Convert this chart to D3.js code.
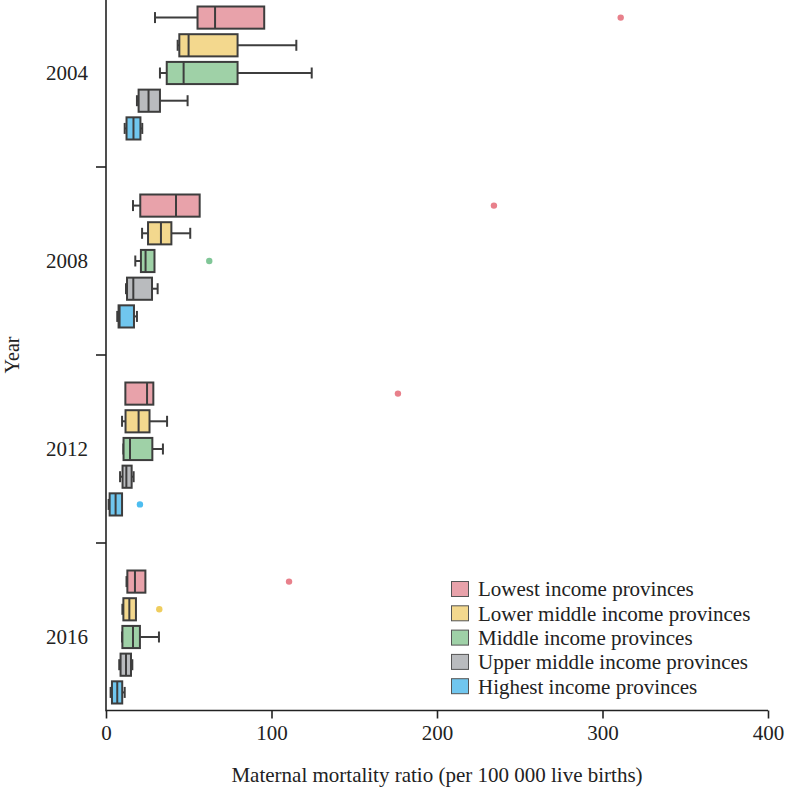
<!DOCTYPE html>
<html><head><meta charset="utf-8">
<script src="https://cdn.jsdelivr.net/npm/d3@7"></script>
<style>body{margin:0;background:#fff}svg{display:block}</style>
</head><body>
<script>
const years = ["2004","2008","2012","2016"];
const groups = ["Lowest income provinces","Lower middle income provinces","Middle income provinces","Upper middle income provinces","Highest income provinces"];
const colors = ["#e8a2aa","#f3d88e","#9fd1a7","#b9bbbe","#70c6ee"];
const outlierColors = ["#e8808b","#efcd5e","#80c697","#b9bbbe","#4dbdf0"];
// [min, q1, median, q3, max] per year, for each group
const lowest      = [[29.6,55.3,65.9,95.6,95.6],[16.3,20.7,42.3,56.6,56.6],[11.7,11.7,24.8,28.6,28.6],[12.4,12.9,17.5,23.8,23.8]];
const lowerMiddle = [[43.3,44.3,49.9,79.5,115],[21.8,25.4,33.2,39.5,50.9],[9.7,11.8,19.7,26.3,36.9],[9.9,10.5,14.1,18.1,18.1]];
const middle      = [[32.6,36.7,46.9,79.5,124.3],[17.7,21.1,23.9,29.3,29.3],[10.5,10.6,14.5,28.0,34.4],[9.7,9.9,16.3,20.5,32.0]];
const upperMiddle = [[18.7,19.7,25.7,32.6,49.3],[12.1,12.7,16.5,27.8,31.2],[8.5,10.0,12.3,15.5,16.7],[8.0,8.8,12.1,15.1,15.9]];
const highest     = [[11.3,12.4,16.6,20.8,21.9],[6.8,7.6,8.2,16.9,18.7],[1.6,2.2,5.8,9.7,9.7],[2.8,3.6,6.8,9.8,11.3]];
// outliers: [year, groupIndex, value]
const outliers = [["2004",0,311],["2008",0,234.4],["2008",2,62.4],["2012",0,176.4],["2012",4,20.5],["2016",0,110.6],["2016",1,32.2]];
const xTicks = [0,100,200,300,400];

const series = [lowest,lowerMiddle,middle,upperMiddle,highest];
const W = 787, H = 789;
const svg = d3.select("body").append("svg").attr("width",W).attr("height",H);
const font = "'Liberation Serif','Times New Roman',serif";
const fs = 21;
const x = d3.scaleLinear().domain([0,400]).range([106,768]);
const y = d3.scaleBand().domain(years).range([-21,731]).paddingInner(0).paddingOuter(0);
const inner = d3.scaleBand().domain(d3.range(groups.length)).range([y.bandwidth()/2-66.5, y.bandwidth()/2+66.5]).paddingInner(0.2);
const axisY = 710.5;
const bh = inner.bandwidth();

// x axis
const xAxis = svg.append("g").attr("transform",`translate(0,${axisY})`)
  .call(d3.axisBottom(x).tickValues(xTicks).tickSize(8).tickPadding(7).tickSizeOuter(0));
xAxis.select(".domain").attr("stroke","#222").attr("stroke-width",1.6).attr("d",`M${x(0)},0H${x(400)}`);
xAxis.selectAll(".tick line").attr("stroke","#222").attr("stroke-width",1.6);
xAxis.selectAll(".tick text").attr("font-family",font).attr("font-size",fs).attr("fill","#222");

// y axis
const yg = svg.append("g");
yg.append("line").attr("x1",106).attr("x2",106).attr("y1",0).attr("y2",axisY+0.8).attr("stroke","#222").attr("stroke-width",1.6);
years.slice(1).forEach(yr=>{
  yg.append("line").attr("x1",96).attr("x2",106).attr("y1",y(yr)).attr("y2",y(yr)).attr("stroke","#222").attr("stroke-width",1.6);
});
years.forEach(yr=>{
  yg.append("text").attr("x",88).attr("y",y(yr)+y.bandwidth()/2).attr("dy","0.35em").attr("text-anchor","end")
    .attr("font-family",font).attr("font-size",fs).attr("fill","#222").text(yr);
});

svg.append("text").attr("x",437).attr("y",782).attr("text-anchor","middle").attr("font-family",font)
  .attr("font-size",fs).attr("fill","#222").text("Maternal mortality ratio (per 100 000 live births)");
svg.append("text").attr("transform","translate(19,355) rotate(-90)").attr("text-anchor","middle").attr("font-family",font)
  .attr("font-size",20).attr("fill","#222").text("Year");

// boxes
const stroke = "#3d3d3d", sw = 2;
series.forEach((s,gi)=>{
  s.forEach((st,yi)=>{
    const yr = years[yi];
    const cy = y(yr) + inner(gi) + bh/2;
    const [mn,q1,md,q3,mx] = st;
    const g = svg.append("g");
    if (mn < q1) {
      g.append("line").attr("x1",x(mn)).attr("x2",x(q1)).attr("y1",cy).attr("y2",cy).attr("stroke",stroke).attr("stroke-width",sw);
      g.append("line").attr("x1",x(mn)).attr("x2",x(mn)).attr("y1",cy-5.5).attr("y2",cy+5.5).attr("stroke",stroke).attr("stroke-width",sw);
    }
    if (mx > q3) {
      g.append("line").attr("x1",x(q3)).attr("x2",x(mx)).attr("y1",cy).attr("y2",cy).attr("stroke",stroke).attr("stroke-width",sw);
      g.append("line").attr("x1",x(mx)).attr("x2",x(mx)).attr("y1",cy-5.5).attr("y2",cy+5.5).attr("stroke",stroke).attr("stroke-width",sw);
    }
    g.append("rect").attr("x",x(q1)).attr("y",cy-bh/2).attr("width",x(q3)-x(q1)).attr("height",bh)
      .attr("fill",colors[gi]).attr("stroke",stroke).attr("stroke-width",sw);
    g.append("line").attr("x1",x(md)).attr("x2",x(md)).attr("y1",cy-bh/2).attr("y2",cy+bh/2).attr("stroke",stroke).attr("stroke-width",sw);
  });
});

outliers.forEach(([yr,gi,v])=>{
  svg.append("circle").attr("cx",x(v)).attr("cy",y(yr)+inner(gi)+bh/2).attr("r",3.2).attr("fill",outlierColors[gi]);
});

// legend
const lg = svg.append("g");
groups.forEach((name,i)=>{
  const ly = 589 + i*24.3;
  lg.append("rect").attr("x",451.5).attr("y",ly-7.5).attr("width",17).attr("height",15)
    .attr("fill",colors[i]).attr("stroke","#555").attr("stroke-width",1);
  lg.append("text").attr("x",478).attr("y",ly).attr("dy","0.35em").attr("font-family",font)
    .attr("font-size",fs).attr("fill","#222").text(name);
});
</script>
</body></html>
